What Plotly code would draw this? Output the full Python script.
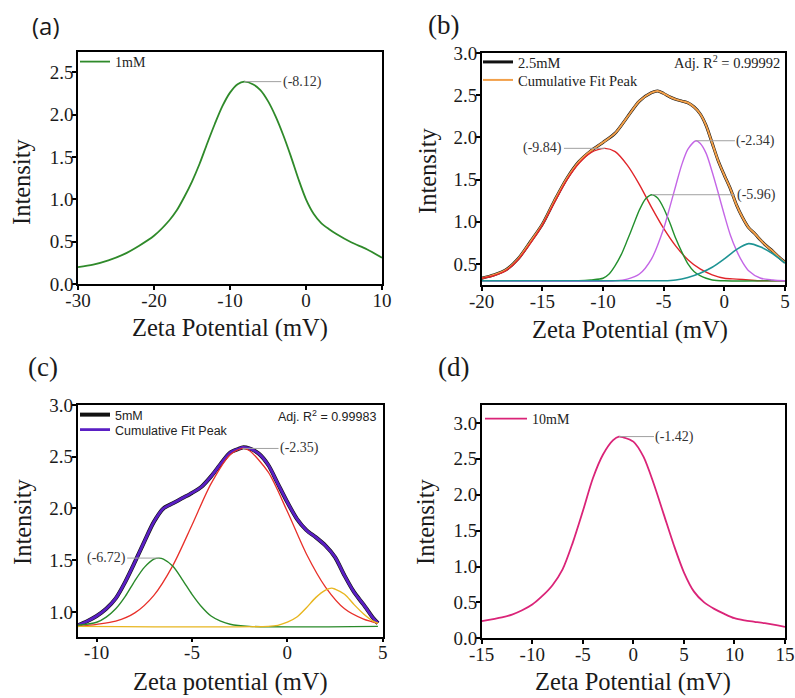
import plotly.graph_objects as go

SERIF = "Liberation Serif"
SANS = "Liberation Sans"

# ---------------- Panel (a): 1mM ----------------
a_x = [-30, -28, -26, -24, -22, -20, -18, -17, -16, -15, -14, -13, -12, -11, -10, -9, -8.12,
       -7, -6, -5, -4, -3, -2, -1, 0, 1, 2, 3, 4, 6, 8, 10]
a_y = [0.20, 0.23, 0.28, 0.35, 0.45, 0.57, 0.75, 0.87, 1.03, 1.21, 1.42, 1.66, 1.89, 2.10, 2.26, 2.36, 2.39,
       2.36, 2.29, 2.16, 1.98, 1.76, 1.51, 1.24, 1.00, 0.83, 0.72, 0.65, 0.59, 0.49, 0.41, 0.31]
a_xticks = [-30, -20, -10, 0, 10]
a_xtext = ["-30", "-20", "-10", "0", "10"]
a_yticks = [0.0, 0.5, 1.0, 1.5, 2.0, 2.5]

# ---------------- Panel (b): 2.5mM ----------------
b_cum_x = [-20, -19, -18, -17, -16, -15, -14, -13, -12, -11, -10, -9, -8, -7, -6, -5.5, -5, -4.5, -4,
           -3.5, -3, -2.5, -2, -1.5, -1, -0.5, 0, 0.5, 1, 1.5, 2, 2.5, 3, 3.5, 4, 4.5, 5]
b_data = [0.33, 0.37, 0.43, 0.56, 0.76, 0.97, 1.25, 1.51, 1.71, 1.84, 1.94, 2.05, 2.24, 2.43, 2.53, 2.55, 2.52,
          2.48, 2.45, 2.43, 2.41, 2.36, 2.28, 2.14, 1.93, 1.72, 1.55, 1.39, 1.20, 1.05, 0.93, 0.86, 0.78,
          0.71, 0.65, 0.58, 0.52]
b_cum = [0.33, 0.37, 0.43, 0.56, 0.76, 0.97, 1.25, 1.51, 1.71, 1.84, 1.94, 2.05, 2.24, 2.43, 2.53, 2.55, 2.52,
         2.48, 2.45, 2.43, 2.41, 2.36, 2.28, 2.14, 1.93, 1.72, 1.55, 1.39, 1.20, 1.05, 0.93, 0.86, 0.78,
         0.71, 0.65, 0.58, 0.52]
b_red_x = [-20, -19, -18, -17, -16, -15, -14, -13, -12, -11, -9.84, -9, -8, -7, -6, -5, -4, -3, -2, -1,
           0, 1, 2, 3, 4, 5]
b_red = [0.33, 0.36, 0.42, 0.55, 0.74, 0.96, 1.23, 1.49, 1.69, 1.82, 1.87, 1.83, 1.67, 1.44, 1.17, 0.92,
         0.71, 0.55, 0.44, 0.37, 0.33, 0.32, 0.31, 0.30, 0.30, 0.30]
b_green_x = [-20, -12, -11, -10, -9.5, -9, -8.5, -8, -7.5, -7, -6.5, -5.96, -5.5, -5, -4.5, -4, -3.5, -3,
             -2.5, -2, -1.5, -1, 0, 5]
b_green = [0.30, 0.30, 0.31, 0.33, 0.38, 0.48, 0.61, 0.78, 0.96, 1.14, 1.27, 1.32, 1.28, 1.16, 0.99, 0.80,
           0.64, 0.50, 0.41, 0.36, 0.33, 0.31, 0.30, 0.30]
b_violet_x = [-20, -9, -8, -7, -6, -5, -4.5, -4, -3.5, -3, -2.34, -2, -1.5, -1, -0.5, 0, 0.5, 1, 1.5, 2, 3, 4, 5]
b_violet = [0.30, 0.30, 0.32, 0.38, 0.56, 0.92, 1.17, 1.43, 1.68, 1.86, 1.96, 1.93, 1.81, 1.59, 1.34, 1.08,
            0.84, 0.66, 0.52, 0.42, 0.33, 0.31, 0.30]
b_teal_x = [-20, -6, -5, -4, -3, -2, -1, 0, 1, 2, 3, 4, 5]
b_teal = [0.30, 0.30, 0.30, 0.31, 0.34, 0.39, 0.46, 0.56, 0.67, 0.74, 0.70, 0.62, 0.51]
b_xticks = [-20, -15, -10, -5, 0, 5]
b_xtext = ["-20", "-15", "-10", "-5", "0", "5"]
b_yticks = [0.5, 1.0, 1.5, 2.0, 2.5, 3.0]

# ---------------- Panel (c): 5mM ----------------
c_cum_x = [-11, -10.5, -10, -9.5, -9, -8.5, -8, -7.5, -7, -6.5, -6, -5.5, -5, -4.5, -4, -3.5, -3, -2.5,
           -2.35, -2, -1.5, -1, -0.5, 0, 0.5, 1, 1.5, 2, 2.5, 3, 3.5, 4, 4.5, 4.75]
c_data = [0.87, 0.91, 0.96, 1.03, 1.13, 1.29, 1.48, 1.68, 1.87, 2.00, 2.05, 2.10, 2.15, 2.21, 2.31, 2.43,
          2.54, 2.58, 2.59, 2.58, 2.53, 2.42, 2.24, 2.06, 1.90, 1.79, 1.72, 1.64, 1.53, 1.35, 1.19, 1.07,
          0.94, 0.89]
c_cum = [0.87, 0.91, 0.96, 1.03, 1.13, 1.29, 1.48, 1.68, 1.87, 2.00, 2.05, 2.10, 2.15, 2.21, 2.31, 2.43,
         2.54, 2.58, 2.59, 2.58, 2.53, 2.42, 2.24, 2.06, 1.90, 1.79, 1.72, 1.64, 1.53, 1.35, 1.19, 1.07,
         0.94, 0.89]
c_red_x = [-11, -10, -9, -8, -7, -6, -5, -4, -3, -2.35, -2, -1, 0, 1, 2, 3, 4, 4.75]
c_red = [0.86, 0.88, 0.91, 0.99, 1.16, 1.45, 1.84, 2.24, 2.52, 2.58, 2.56, 2.35, 1.97, 1.56, 1.24, 1.03,
         0.93, 0.89]
c_green_x = [-11, -10, -9.5, -9, -8.5, -8, -7.5, -7, -6.72, -6.5, -6, -5.5, -5, -4.5, -4, -3.5, -3, -2, 4.75]
c_green = [0.87, 0.90, 0.95, 1.03, 1.15, 1.30, 1.43, 1.51, 1.52, 1.51, 1.44, 1.31, 1.17, 1.05, 0.96, 0.91,
           0.88, 0.86, 0.86]
c_yellow_x = [-11, -1, -0.5, 0, 0.5, 1, 1.5, 2, 2.32, 2.5, 3, 3.5, 4, 4.5, 4.75]
c_yellow = [0.86, 0.86, 0.87, 0.90, 0.95, 1.04, 1.14, 1.21, 1.23, 1.22, 1.17, 1.07, 0.98, 0.91, 0.89]
c_xticks = [-10, -5, 0, 5]
c_xtext = ["-10", "-5", "0", "5"]
c_yticks = [1.0, 1.5, 2.0, 2.5, 3.0]

# ---------------- Panel (d): 10mM ----------------
d_x = [-15, -13, -12, -11, -10, -9, -8, -7, -6, -5, -4, -3, -2, -1.42, -1, 0, 1, 2, 3, 4, 5, 6, 7, 8, 9,
       10, 11, 12, 13, 15]
d_y = [0.24, 0.29, 0.33, 0.39, 0.47, 0.59, 0.74, 0.96, 1.33, 1.77, 2.23, 2.56, 2.76, 2.81, 2.80, 2.74, 2.53,
       2.16, 1.73, 1.30, 0.92, 0.65, 0.50, 0.41, 0.34, 0.28, 0.25, 0.23, 0.21, 0.16]
d_xticks = [-15, -10, -5, 0, 5, 10, 15]
d_xtext = ["-15", "-10", "-5", "0", "5", "10", "15"]
d_yticks = [0.0, 0.5, 1.0, 1.5, 2.0, 2.5, 3.0]

W, H = 795, 698


def px(v):
    return v / W


def py(v):
    return 1 - v / H


fig = go.Figure()


def line(x, y, color, width, name, xa, ya, legend, show=False):
    fig.add_trace(go.Scatter(x=x, y=y, mode="lines", name=name, showlegend=show,
                             line=dict(color=color, width=width, shape="spline", smoothing=0.8),
                             xaxis=xa, yaxis=ya, legend=legend, hoverinfo="skip"))


# (a)
line(a_x, a_y, "#2f8a2a", 1.8, "1mM", "x", "y", "legend", True)
# (b)
line(b_cum_x, b_data, "#111111", 3.0, "2.5mM", "x2", "y2", "legend2", True)
line(b_cum_x, b_cum, "#f2a04a", 2.0, "Cumulative Fit Peak", "x2", "y2", "legend5", True)
line(b_red_x, b_red, "#e0252a", 1.4, "peak1", "x2", "y2", "legend2")
line(b_green_x, b_green, "#23902e", 1.4, "peak2", "x2", "y2", "legend2")
line(b_violet_x, b_violet, "#c466e6", 1.4, "peak3", "x2", "y2", "legend2")
line(b_teal_x, b_teal, "#1e9494", 1.6, "peak4", "x2", "y2", "legend2")
# (c)
line(c_cum_x, c_data, "#111111", 4.0, "5mM", "x3", "y3", "legend3", True)
line(c_cum_x, c_cum, "#5a1fc4", 2.8, "Cumulative Fit Peak", "x3", "y3", "legend6", True)
line(c_red_x, c_red, "#e8302a", 1.3, "peak1", "x3", "y3", "legend3")
line(c_green_x, c_green, "#2a8a2a", 1.4, "peak2", "x3", "y3", "legend3")
line(c_yellow_x, c_yellow, "#e8b620", 1.4, "peak3", "x3", "y3", "legend3")
# (d)
line(d_x, d_y, "#da2478", 1.8, "10mM", "x4", "y4", "legend4", True)

axis_common = dict(showline=True, linecolor="black", linewidth=1.5, mirror=True, ticks="outside",
                   ticklen=4, tickwidth=1.5, tickcolor="black", showgrid=False, zeroline=False,
                   tickfont=dict(family=SERIF, size=19, color="#1a1a1a"), fixedrange=True)
xa_common = dict(axis_common, ticklabelstandoff=-6)
ya_common = dict(axis_common, ticklabelstandoff=-5)

dom = {
    "a": ([px(78), px(382)], [py(284), py(52)]),
    "b": ([px(481.7), px(785)], [py(285), py(53)]),
    "c": ([px(77.6), px(382.7)], [py(636.7), py(405)]),
    "d": ([px(481.7), px(785)], [py(638.3), py(405)]),
}

fig.update_layout(
    width=W, height=H, margin=dict(l=0, r=0, t=0, b=0, autoexpand=False),
    paper_bgcolor="white", plot_bgcolor="white",
    xaxis=dict(xa_common, domain=dom["a"][0], range=[-30, 10], tickvals=a_xticks, ticktext=a_xtext, anchor="y"),
    yaxis=dict(ya_common, domain=dom["a"][1], range=[0, 2.74], tickvals=a_yticks, tickformat=".1f", anchor="x"),
    xaxis2=dict(xa_common, domain=dom["b"][0], range=[-20, 5], tickvals=b_xticks, ticktext=b_xtext, anchor="y2"),
    yaxis2=dict(ya_common, domain=dom["b"][1], range=[0.25, 3.0], tickvals=b_yticks, tickformat=".1f", anchor="x2"),
    xaxis3=dict(xa_common, domain=dom["c"][0], range=[-11, 5], tickvals=c_xticks, ticktext=c_xtext, anchor="y3"),
    yaxis3=dict(ya_common, domain=dom["c"][1], range=[0.76, 3.0], tickvals=c_yticks, tickformat=".1f", anchor="x3"),
    xaxis4=dict(xa_common, domain=dom["d"][0], range=[-15, 15], tickvals=d_xticks, ticktext=d_xtext, anchor="y4"),
    yaxis4=dict(ya_common, domain=dom["d"][1], range=[0, 3.25], tickvals=d_yticks, tickformat=".1f", anchor="x4"),
    showlegend=True,
)

leg_common = dict(bgcolor="rgba(0,0,0,0)", borderwidth=0, xanchor="left", yanchor="middle",
                  itemwidth=30, tracegroupgap=0)
fig.update_layout(
    legend=dict(leg_common, x=px(75), y=py(62), font=dict(family=SERIF, size=14, color="#222")),
    legend2=dict(leg_common, x=px(478), y=py(62), font=dict(family=SERIF, size=14.5, color="#222")),
    legend5=dict(leg_common, x=px(478), y=py(80), font=dict(family=SERIF, size=14.5, color="#222")),
    legend3=dict(leg_common, x=px(75), y=py(415), font=dict(family=SANS, size=12.5, color="#222")),
    legend6=dict(leg_common, x=px(75), y=py(430), font=dict(family=SANS, size=12.5, color="#222")),
    legend4=dict(leg_common, x=px(480), y=py(419), itemwidth=42, font=dict(family=SERIF, size=14, color="#222")),
)

ann = []


def peak_label(xs, ys, target, text, xr, yr, ax):
    i = min(range(len(xs)), key=lambda k: abs(xs[k] - target))
    ann.append(dict(x=xs[i], y=ys[i], xref=xr, yref=yr, text=text, showarrow=True, arrowhead=0,
                    arrowwidth=1, arrowcolor="#a0a0a0", ax=ax, ay=0, standoff=0,
                    font=dict(family=SERIF, size=14, color="#333")))


peak_label(a_x, a_y, -8.12, "(-8.12)", "x", "y", 58)
peak_label(b_red_x, b_red, -9.84, "(-9.84)", "x2", "y2", -62)
peak_label(b_violet_x, b_violet, -2.34, "(-2.34)", "x2", "y2", 60)
peak_label(b_green_x, b_green, -5.96, "(-5.96)", "x2", "y2", 104)
peak_label(c_red_x, c_red, -2.35, "(-2.35)", "x3", "y3", 57)
peak_label(c_green_x, c_green, -6.72, "(-6.72)", "x3", "y3", -53)
peak_label(d_x, d_y, -1.42, "(-1.42)", "x4", "y4", 56)


def txt(x, y, text, family, size, angle=0, xanchor="center", color="#1a1a1a"):
    ann.append(dict(x=px(x), y=py(y), xref="paper", yref="paper", text=text, showarrow=False,
                    xanchor=xanchor, yanchor="middle", textangle=angle,
                    font=dict(family=family, size=size, color=color)))


# panel labels
txt(46, 25, "(a)", "Open Sans", 24)
txt(443, 25, "(b)", SERIF, 27)
txt(43, 367, "(c)", SERIF, 27)
txt(453, 367, "(d)", SERIF, 27)
# axis titles
txt(230, 328, "Zeta Potential (mV)", SERIF, 24.5)
txt(630, 330, "Zeta Potential (mV)", SERIF, 24.5)
txt(230, 682, "Zeta potential (mV)", SERIF, 24.5)
txt(633, 682, "Zeta Potential (mV)", SERIF, 24.5)
txt(22, 182, "Intensity", SERIF, 24.5, angle=-90)
txt(427, 171, "Intensity", SERIF, 24.5, angle=-90)
txt(22, 522, "Intensity", SERIF, 24.5, angle=-90)
txt(425, 522, "Intensity", SERIF, 24.5, angle=-90)
# R^2
txt(782, 62, "Adj. R<sup>2</sup> = 0.99992", SERIF, 14.5, xanchor="right", color="#222")
txt(378, 416, "Adj. R<sup>2</sup> = 0.99983", SANS, 12.5, xanchor="right", color="#222")

fig.update_layout(annotations=ann)
fig.write_html("out.html")
